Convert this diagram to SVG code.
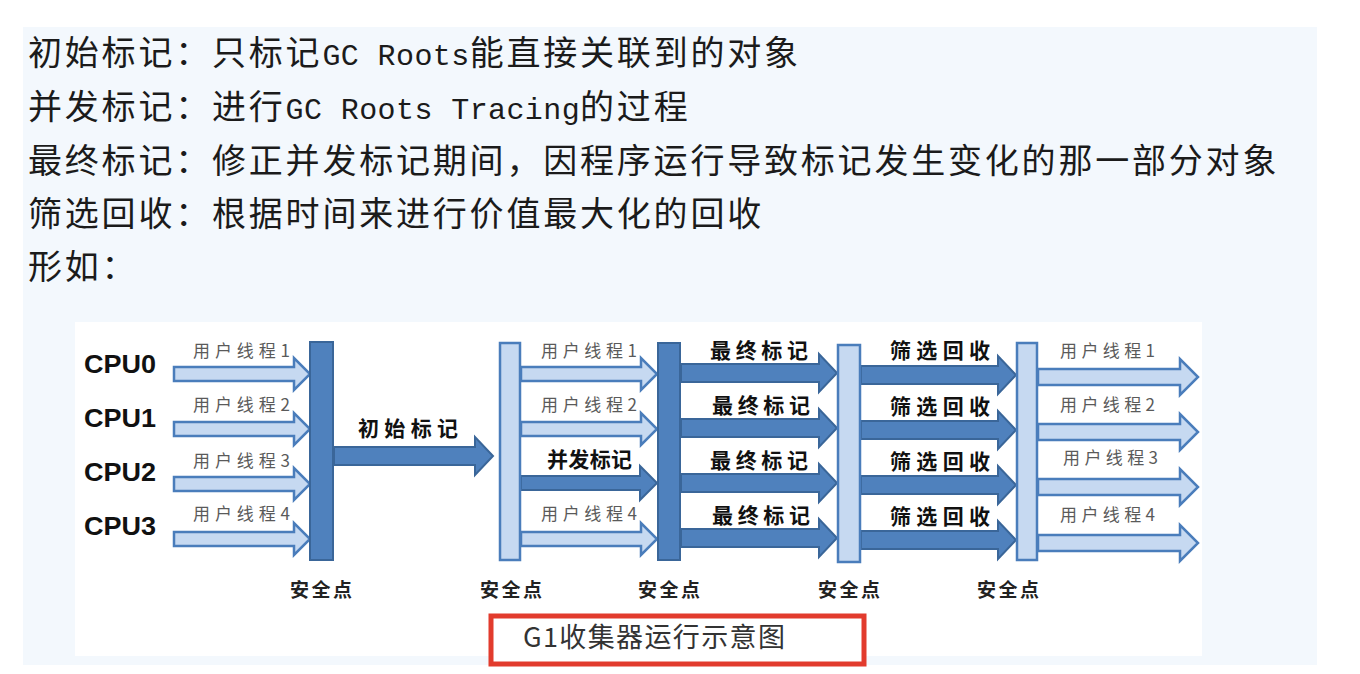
<svg xmlns="http://www.w3.org/2000/svg" width="1360" height="674" viewBox="0 0 1360 674">
  <style>
    .page { fill: #ffffff; }
    .panel { fill: #f3f8fd; }
    .sheet { fill: #ffffff; }
    .note { font-family: "Noto Sans CJK SC", "Noto Sans", sans-serif; font-size: 34px; letter-spacing: 2.8px; fill: #1b1b1b; }
    .latin { font-family: "Liberation Mono", monospace; font-size: 30px; letter-spacing: 0.4px; }
    .cpu { font-family: "Liberation Sans", Arial, sans-serif; font-weight: bold; font-size: 26px; fill: #111111; }
    .thread { font-family: "Noto Sans CJK SC", sans-serif; font-size: 17px; fill: #5a5a5a; }
    .phase { font-family: "Noto Sans CJK SC", sans-serif; font-weight: bold; font-size: 21px; fill: #111111; }
    .safe { font-family: "Noto Sans CJK SC", sans-serif; font-weight: bold; font-size: 19px; fill: #222222; text-anchor: middle; }
    .bar-dark { fill: #4f81bd; stroke: #3a6699; stroke-width: 2; }
    .bar-light { fill: #c6d9f1; stroke: #4a7dbb; stroke-width: 2.5; }
    .arrow-light { fill: #c6d9f1; stroke: #4a7dbb; stroke-width: 2.5; stroke-linejoin: miter; }
    .arrow-dark { fill: #4f81bd; stroke: #3a6699; stroke-width: 2; stroke-linejoin: miter; }
    .caption-box { fill: #ffffff; stroke: #e23b2d; stroke-width: 5; }
    .caption { font-family: "Noto Sans CJK SC", sans-serif; font-size: 27px; fill: #333333; }
  </style>

  <!-- backgrounds -->
  <rect class="page" x="0" y="0" width="1360" height="674"/>
  <rect class="panel" x="23" y="27" width="1294" height="638"/>
  <rect class="sheet" x="75" y="322" width="1127" height="334"/>

  <!-- description lines -->
  <g id="notes">
    <text class="note" x="28" y="65">初始标记：只标记<tspan class="latin">GC Roots</tspan>能直接关联到的对象</text>
    <text class="note" x="28" y="119">并发标记：进行<tspan class="latin">GC Roots Tracing</tspan>的过程</text>
    <text class="note" x="28" y="173">最终标记：修正并发标记期间，因程序运行导致标记发生变化的那一部分对象</text>
    <text class="note" x="28" y="226">筛选回收：根据时间来进行价值最大化的回收</text>
    <text class="note" x="28" y="279">形如：</text>
  </g>

  <!-- thread / phase arrows -->
  <g id="connectors">
    <!-- user threads before the first safepoint -->
    <polygon class="arrow-light" points="174,367 294,367 294,358 310,374 294,390 294,381 174,381"/>
    <polygon class="arrow-light" points="174,422 294,422 294,413 310,429 294,445 294,436 174,436"/>
    <polygon class="arrow-light" points="174,477 294,477 294,468 310,484 294,500 294,491 174,491"/>
    <polygon class="arrow-light" points="174,532 294,532 294,523 310,539 294,555 294,546 174,546"/>
    <!-- initial mark -->
    <polygon class="arrow-dark" points="334,447 475,447 475,437 493,456 475,475 475,465 334,465"/>
    <!-- concurrent phase -->
    <polygon class="arrow-light" points="521,367 641,367 641,358 657,374 641,390 641,381 521,381"/>
    <polygon class="arrow-light" points="521,422 641,422 641,413 657,429 641,445 641,436 521,436"/>
    <polygon class="arrow-dark" points="521,476 640,476 640,466 657,483 640,500 640,490 521,490"/>
    <polygon class="arrow-light" points="521,532 641,532 641,523 657,539 641,555 641,546 521,546"/>
    <!-- final mark -->
    <polygon class="arrow-dark" points="681,364 819,364 819,354 837,373 819,392 819,382 681,382"/>
    <polygon class="arrow-dark" points="681,419 819,419 819,409 837,428 819,447 819,437 681,437"/>
    <polygon class="arrow-dark" points="681,474 819,474 819,464 837,483 819,502 819,492 681,492"/>
    <polygon class="arrow-dark" points="681,529 819,529 819,519 837,538 819,557 819,547 681,547"/>
    <!-- live data counting and evacuation -->
    <polygon class="arrow-dark" points="861,366 998,366 998,356 1016,375 998,394 998,384 861,384"/>
    <polygon class="arrow-dark" points="861,421 998,421 998,411 1016,430 998,449 998,439 861,439"/>
    <polygon class="arrow-dark" points="861,476 998,476 998,466 1016,485 998,504 998,494 861,494"/>
    <polygon class="arrow-dark" points="861,531 998,531 998,521 1016,540 998,559 998,549 861,549"/>
    <!-- user threads resume -->
    <polygon class="arrow-light" points="1038,369 1180,369 1180,359 1198,377 1180,395 1180,385 1038,385"/>
    <polygon class="arrow-light" points="1038,424 1180,424 1180,414 1198,432 1180,450 1180,440 1038,440"/>
    <polygon class="arrow-light" points="1038,479 1180,479 1180,469 1198,487 1180,505 1180,495 1038,495"/>
    <polygon class="arrow-light" points="1038,535 1180,535 1180,525 1198,543 1180,561 1180,551 1038,551"/>
  </g>

  <!-- CPU labels -->
  <g id="cpus">
    <text class="cpu" x="84" y="373" textLength="72" lengthAdjust="spacingAndGlyphs">CPU0</text>
    <text class="cpu" x="84" y="427" textLength="72" lengthAdjust="spacingAndGlyphs">CPU1</text>
    <text class="cpu" x="84" y="481" textLength="72" lengthAdjust="spacingAndGlyphs">CPU2</text>
    <text class="cpu" x="84" y="535" textLength="72" lengthAdjust="spacingAndGlyphs">CPU3</text>
  </g>

  <!-- safepoint 1 -->
  <g id="safepoint-1">
    <rect class="bar-dark" x="310" y="342" width="23" height="218"/>
    <text class="safe" x="321" y="597" textLength="62">安全点</text>
  </g>
  <!-- safepoint 2 -->
  <g id="safepoint-2">
    <rect class="bar-light" x="500" y="343" width="20" height="217"/>
    <text class="safe" x="511" y="597" textLength="62">安全点</text>
  </g>
  <!-- safepoint 3 -->
  <g id="safepoint-3">
    <rect class="bar-dark" x="658" y="343" width="22" height="217"/>
    <text class="safe" x="669" y="597" textLength="62">安全点</text>
  </g>
  <!-- safepoint 4 -->
  <g id="safepoint-4">
    <rect class="bar-light" x="838" y="345" width="22" height="217"/>
    <text class="safe" x="849" y="597" textLength="62">安全点</text>
  </g>
  <!-- safepoint 5 -->
  <g id="safepoint-5">
    <rect class="bar-light" x="1017" y="343" width="20" height="217"/>
    <text class="safe" x="1008" y="597" textLength="62">安全点</text>
  </g>

  <!-- arrow labels -->
  <g id="labels-running">
    <text class="thread" x="193" y="357" textLength="97">用户线程1</text>
    <text class="thread" x="193" y="411" textLength="97">用户线程2</text>
    <text class="thread" x="193" y="467" textLength="97">用户线程3</text>
    <text class="thread" x="193" y="520" textLength="97">用户线程4</text>
  </g>
  <g id="label-initial-mark">
    <text class="phase" x="358" y="436" font-size="22" textLength="100">初始标记</text>
  </g>
  <g id="labels-concurrent">
    <text class="thread" x="541" y="357" textLength="96">用户线程1</text>
    <text class="thread" x="541" y="411" textLength="96">用户线程2</text>
    <text class="phase" x="547" y="467" font-size="18" textLength="85">并发标记</text>
    <text class="thread" x="541" y="520" textLength="96">用户线程4</text>
  </g>
  <g id="labels-final-mark">
    <text class="phase" x="710" y="358" textLength="98">最终标记</text>
    <text class="phase" x="712" y="413" textLength="98">最终标记</text>
    <text class="phase" x="710" y="468" textLength="98">最终标记</text>
    <text class="phase" x="712" y="523" textLength="98">最终标记</text>
  </g>
  <g id="labels-evacuation">
    <text class="phase" x="890" y="358" textLength="100">筛选回收</text>
    <text class="phase" x="890" y="414" textLength="100">筛选回收</text>
    <text class="phase" x="890" y="469" textLength="100">筛选回收</text>
    <text class="phase" x="890" y="524" textLength="100">筛选回收</text>
  </g>
  <g id="labels-resumed">
    <text class="thread" x="1060" y="357" textLength="95">用户线程1</text>
    <text class="thread" x="1060" y="411" textLength="95">用户线程2</text>
    <text class="thread" x="1063" y="464" textLength="95">用户线程3</text>
    <text class="thread" x="1060" y="521" textLength="95">用户线程4</text>
  </g>

  <!-- caption -->
  <g id="caption">
    <rect class="caption-box" x="491" y="616" width="373" height="48"/>
    <text class="caption" x="523" y="647" textLength="262">G1收集器运行示意图</text>
  </g>
</svg>
